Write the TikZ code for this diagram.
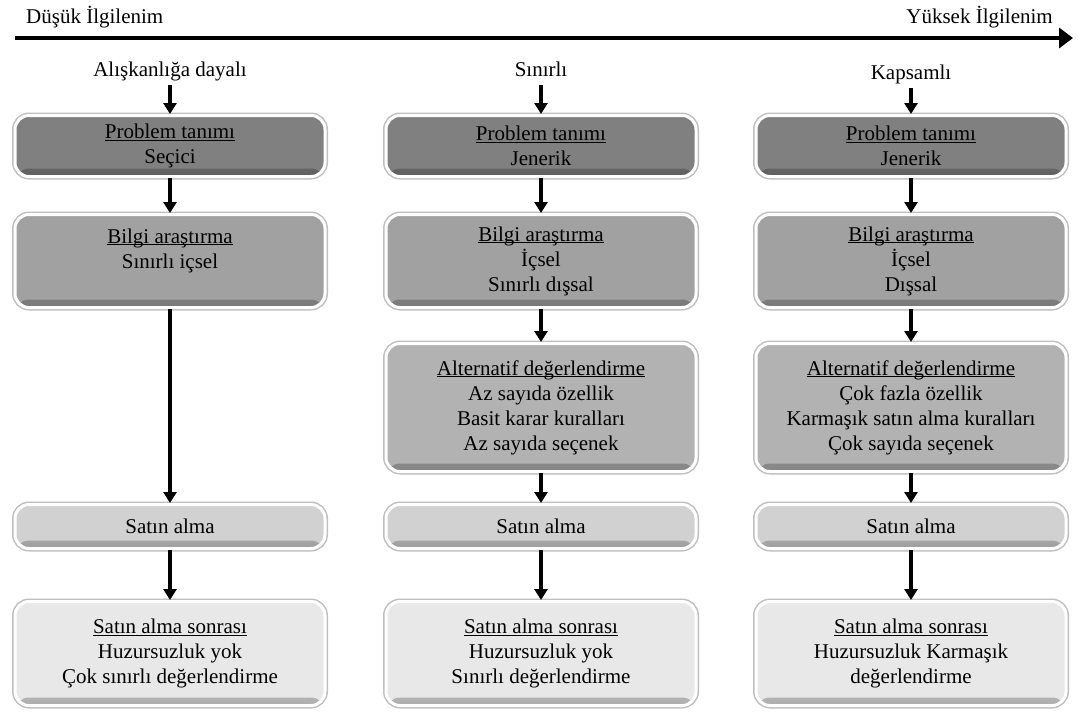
\documentclass[tikz,border=0pt]{standalone}
\usepackage{fontspec}
\setmainfont{Liberation Serif}
\usetikzlibrary{arrows.meta}

% heading line of a stage box: underlined, rule kept close to the baseline
\newcommand\hd[1]{\underline{\raisebox{0pt}[\height][0pt]{#1}}}

\colorlet{cProb}{black!50}
\colorlet{cInfo}{black!37}
\colorlet{cAlt}{black!30}
\colorlet{cBuy}{black!18}
\colorlet{cPost}{black!9}

\tikzset{
  txt/.style={font=\fontsize{21}{25}\selectfont, inner sep=0pt},
  stage/.style={draw=white, line width=3pt, rounded corners=14pt,
    minimum width=310pt, inner sep=0pt, align=center,
    font=\fontsize{21}{25}\selectfont, fill=#1,
    preaction={draw=black!25, line width=6pt},
    path picture={\shade[top color=#1, bottom color=#1!75!black]
      ([yshift=8pt]path picture bounding box.south west)
      rectangle (path picture bounding box.south east);}},
  coltitle/.style={font=\fontsize{21}{25}\selectfont, anchor=base,
    text height=15pt, text depth=5pt, inner xsep=0pt, inner ysep=4pt},
  conn/.style={line width=3.2pt, -{Triangle[length=11pt,width=13pt]}},
  hProb/.style={stage=cProb, minimum height=61pt},
  hInfo/.style={stage=cInfo, minimum height=93pt},
  hAlt/.style={stage=cAlt, minimum height=128pt},
  hBuy/.style={stage=cBuy, minimum height=44pt},
  hPost/.style={stage=cPost, minimum height=104pt},
}

\begin{document}
\begin{tikzpicture}[x=1pt, y=-1pt]
\useasboundingbox (0,0) rectangle (1078,713);

% involvement axis
\coordinate (axL) at (15,38);
\coordinate (axR) at (1073,38);
\draw[line width=4pt, -{Triangle[length=14pt,width=20pt]}] (axL) -- (axR);
\node[txt, anchor=base west] (low) at (26,23) {Düşük İlgilenim};
\node[txt, anchor=base east] (high) at (1053,23) {Yüksek İlgilenim};

% column titles
\node[coltitle] (t1) at (170,76) {Alışkanlığa dayalı};
\node[coltitle] (t2) at (541,76) {Sınırlı};
\node[coltitle] (t3) at (911,79) {Kapsamlı};

% habitual decision making
\node[hProb] (p1) at (170,146)   {\hd{Problem tanımı}\\Seçici};
\node[hInfo] (b1) at (170,261)   {\hd{Bilgi araştırma}\\Sınırlı içsel\\\mbox{}};
\node[hBuy]  (s1) at (170,526.5) {Satın alma};
\node[hPost] (e1) at (170,653.5) {\hd{Satın alma sonrası}\\Huzursuzluk yok\\Çok sınırlı değerlendirme};

% limited decision making
\node[hProb] (p2) at (541,146)   {\hd{Problem tanımı}\\Jenerik};
\node[hInfo] (b2) at (541,261)   {\hd{Bilgi araştırma}\\İçsel\\Sınırlı dışsal};
\node[hAlt]  (a2) at (541,407.5) {\hd{Alternatif değerlendirme}\\Az sayıda özellik\\Basit karar kuralları\\Az sayıda seçenek};
\node[hBuy]  (s2) at (541,526.5) {Satın alma};
\node[hPost] (e2) at (541,653.5) {\hd{Satın alma sonrası}\\Huzursuzluk yok\\Sınırlı değerlendirme};

% extended decision making
\node[hProb] (p3) at (911,146)   {\hd{Problem tanımı}\\Jenerik};
\node[hInfo] (b3) at (911,261)   {\hd{Bilgi araştırma}\\İçsel\\Dışsal};
\node[hAlt]  (a3) at (911,407.5) {\hd{Alternatif değerlendirme}\\Çok fazla özellik\\Karmaşık satın alma kuralları\\Çok sayıda seçenek};
\node[hBuy]  (s3) at (911,526.5) {Satın alma};
\node[hPost] (e3) at (911,653.5) {\hd{Satın alma sonrası}\\Huzursuzluk Karmaşık\\değerlendirme};

% flow arrows
\draw[conn] (t1) -- (p1);
\draw[conn] (p1) -- (b1);
\draw[conn] (b1) -- (s1);
\draw[conn] (s1) -- (e1);

\draw[conn] (t2) -- (p2);
\draw[conn] (p2) -- (b2);
\draw[conn] (b2) -- (a2);
\draw[conn] (a2) -- (s2);
\draw[conn] (s2) -- (e2);

\draw[conn] (t3) -- (p3);
\draw[conn] (p3) -- (b3);
\draw[conn] (b3) -- (a3);
\draw[conn] (a3) -- (s3);
\draw[conn] (s3) -- (e3);
\end{tikzpicture}
\end{document}
